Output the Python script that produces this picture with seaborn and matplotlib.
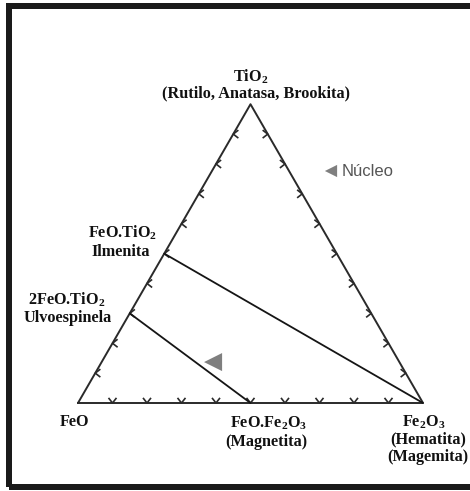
import numpy as np
import pandas as pd
import matplotlib
matplotlib.use("Agg")
import matplotlib.pyplot as plt
import seaborn as sns
from matplotlib.patches import Rectangle

# ---------------- data ----------------
# ternary components: t = TiO2 fraction, f = Fe2O3 fraction (FeO = rest)
tick_fracs = [0.1, 0.2, 0.3, 0.4, 0.5, 0.6, 0.7, 0.8, 0.9]
tie_start_t = [0.0, 0.0]          # Fe2O3, FeO.Fe2O3
tie_start_f = [1.0, 0.5]
tie_end_t = [0.5, 0.3]            # FeO.TiO2 (Ilmenita), 2FeO.TiO2 (Ulvoespinela)
tie_end_f = [0.0, 0.0]
nucleo_t = [0.137]
nucleo_f = [0.323]
legend_label = "Núcleo"

sns.set_theme(style="white")
plt.rcParams["font.family"] = ["Liberation Serif", "DejaVu Serif"]
plt.rcParams["mathtext.fontset"] = "custom"
plt.rcParams["mathtext.rm"] = "Liberation Serif:bold"
plt.rcParams["mathtext.it"] = "Liberation Serif:bold"
plt.rcParams["mathtext.bf"] = "Liberation Serif:bold"

W, H = 470, 491
fig = plt.figure(figsize=(W / 100, H / 100), dpi=100)
ax = fig.add_axes([0, 0, 1, 1])
ax.set_zorder(1)
S = 345.0
X0, Y0 = 78.0, 403.0
ax.set_xlim(-X0 / S, (W - X0) / S)
ax.set_ylim(-(H - Y0) / S, Y0 / S)
ax.set_axis_off()

R3 = np.sqrt(3) / 2


def tern(t, f):
    t = np.asarray(t, float)
    f = np.asarray(f, float)
    return f + t / 2.0, t * R3


def px(x, y):
    return (x - X0) / S, (Y0 - y) / S


# triangle outline
tx, ty = tern([0, 0, 1, 0], [0, 1, 0, 0])
edge = pd.DataFrame({"x": tx, "y": ty, "o": range(4)})
sns.lineplot(data=edge, x="x", y="y", sort=False, color="#2a2a2a", lw=1.4,
             ax=ax, estimator=None)

# chevron ticks
L = 6.5 / S
ang = np.deg2rad(38)


def chevron(x, y, direction):
    d = np.deg2rad(direction)
    a1 = d + ang
    a2 = d - ang
    xs = [x + L * np.cos(a1), x, x + L * np.cos(a2)]
    ys = [y + L * np.sin(a1), y, y + L * np.sin(a2)]
    ax.plot(xs, ys, color="#2a2a2a", lw=1.2, solid_capstyle="butt")


tf = np.array(tick_fracs)
# bottom edge (FeO-Fe2O3): V pointing down
bx, by = tern(np.zeros_like(tf), tf)
for x, y in zip(bx, by):
    chevron(x, y, 90)
# left edge (FeO-TiO2): pointing left
lx, ly = tern(tf, np.zeros_like(tf))
for x, y in zip(lx, ly):
    chevron(x, y, 0)
# right edge (Fe2O3-TiO2): pointing right
rx, ry = tern(tf, 1 - tf)
for x, y in zip(rx, ry):
    chevron(x, y, 180)

# tie lines
for i in range(len(tie_start_t)):
    xs, ys = tern([tie_start_t[i], tie_end_t[i]], [tie_start_f[i], tie_end_f[i]])
    d = pd.DataFrame({"x": xs, "y": ys})
    sns.lineplot(data=d, x="x", y="y", sort=False, color="#151515", lw=1.3,
                 ax=ax, estimator=None, zorder=4)

# nucleo point
nx, ny = tern(nucleo_t, nucleo_f)
sns.scatterplot(x=nx, y=ny, marker="<", s=13 ** 2, color="#7f7f7f",
                edgecolor="none", ax=ax, zorder=3)

# legend-like label
lgx, lgy = px(331, 171)
ax.scatter([lgx], [lgy], marker="<", s=8.8 ** 2, color="#7f7f7f",
           edgecolor="none", zorder=3)
tx_, ty_ = px(342, 171)
ax.text(tx_, ty_, legend_label, fontsize=12, family=["Liberation Sans", "DejaVu Sans"],
        color="#555555", ha="left", va="center")

# vertex / compound labels
fs = 11.7
labels = [
    ("TiO$_2$", 251, 77),
    ("(Rutilo, Anatasa, Brookita)", 256, 93),
    ("FeO.TiO$_2$", 123, 233),
    ("Ilmenita", 121, 252),
    ("2FeO.TiO$_2$", 67, 300),
    ("Ulvoespinela", 68, 318),
    ("FeO", 74, 422),
    ("FeO.Fe$_2$O$_3$", 269, 423),
    ("(Magnetita)", 266, 442),
    ("Fe$_2$O$_3$", 424, 422),
    ("(Hematita)", 428, 439),
    ("(Magemita)", 428, 457),
]
for s, x, y in labels:
    X, Y = px(x, y)
    ax.text(X, Y, s, fontsize=fs, fontweight="bold", color="#111111",
            ha="center", va="center", zorder=6,
            bbox=dict(facecolor="white", edgecolor="none", pad=0.3))

# outer frame (drawn beneath the axes content)
lw_pt = 6 * 72 / 100
fig.patches.append(Rectangle((9 / W, 1 - 487 / H), (471 - 9) / W, (487 - 6) / H,
                             transform=fig.transFigure, fill=False,
                             edgecolor="#1a1a1a", lw=lw_pt, zorder=-1))

fig.savefig("out.png", dpi=100)
